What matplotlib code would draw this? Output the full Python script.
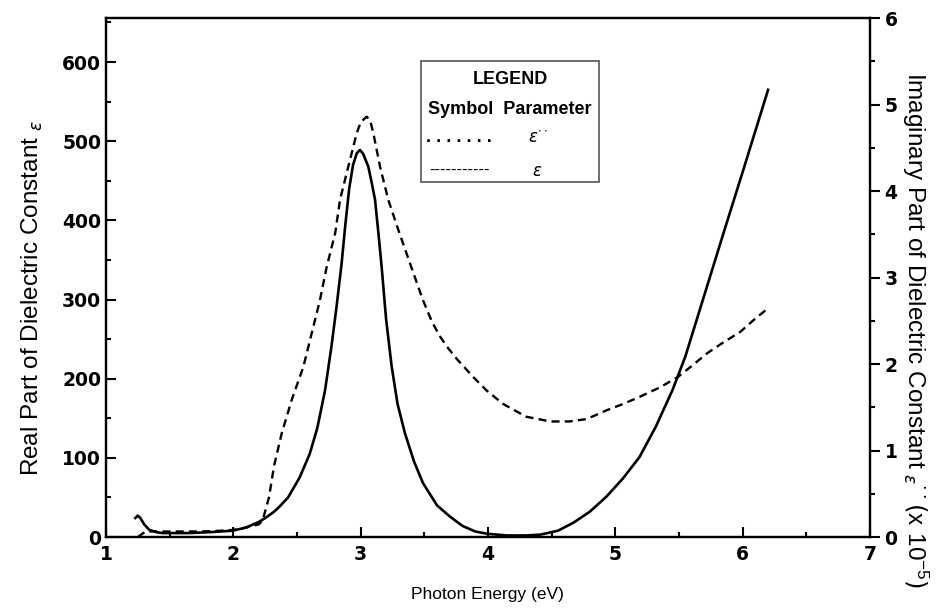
import matplotlib.pyplot as plt
import matplotlib.patches as patches
from matplotlib.ticker import MultipleLocator

# Photon energy (eV) and dielectric constant values
solid_x = [1.23, 1.249, 1.27, 1.30, 1.34, 1.40, 1.445, 1.55, 1.65, 1.80, 1.90,
           1.995, 2.10, 2.20, 2.26, 2.32, 2.36, 2.43, 2.52, 2.60, 2.66, 2.72,
           2.77, 2.81, 2.85, 2.88, 2.91, 2.94, 2.97, 2.995, 3.02, 3.06, 3.09,
           3.113, 3.14, 3.165, 3.20, 3.244, 3.29, 3.348, 3.42, 3.49, 3.60, 3.70,
           3.80, 3.90, 4.00, 4.15, 4.30, 4.41, 4.55, 4.67, 4.80, 4.93, 5.06,
           5.19, 5.32, 5.45, 5.55, 5.70, 5.85, 6.00, 6.10, 6.20]
solid_y = [24, 27, 24, 16, 9, 6, 5, 5, 5, 6, 7,
           8, 12, 19, 25, 32, 38, 50, 75, 105, 138, 185,
           240, 290, 345, 395, 440, 470, 485, 489, 484, 468, 445,
           426, 383, 341, 275, 215, 168, 131, 95, 68, 40, 26,
           14, 7, 4, 2, 2, 3, 8, 18, 32, 51, 74,
           101, 140, 186, 228, 306, 384, 461, 513, 565]

dash_x = [1.25, 1.31, 1.40, 1.50, 1.60, 1.75, 1.90, 2.00, 2.10, 2.20, 2.23,
          2.28, 2.32, 2.38, 2.458, 2.55, 2.615, 2.68, 2.733, 2.80, 2.838,
          2.903, 2.969, 3.00, 3.047, 3.075, 3.10, 3.152, 3.217, 3.296, 3.387,
          3.49, 3.56, 3.62, 3.69, 3.755, 3.885, 3.99, 4.12, 4.30, 4.49, 4.64,
          4.775, 4.93, 5.06, 5.19, 5.35, 5.49, 5.60, 5.72, 5.85, 5.98, 6.10,
          6.20]
dash_y = [0, 7, 7, 7, 7, 7, 8, 9, 12, 16, 21,
          50, 90, 131, 173, 215, 257, 299, 341, 384, 426,
          468, 510, 524, 531, 526, 510, 468, 426, 388, 346,
          299, 272, 254, 238, 225, 202, 185, 168, 152, 146, 146,
          149, 160, 168, 177, 189, 202, 216, 232, 246, 259, 276,
          289]

left_max = 655.6
right_max = 6

fig = plt.figure(figsize=(9.49, 6.12), dpi=100)
ax = fig.add_axes([0.1117, 0.1225, 0.805, 0.848])
ax2 = ax.twinx()

ax.plot(solid_x, solid_y, color='black', lw=1.9, solid_joinstyle='round')
ax.plot(dash_x, dash_y, color='black', lw=1.7, dashes=(3.4, 2.2))

ax.set_xlim(1, 7)
ax.set_ylim(0, left_max)
ax2.set_ylim(0, right_max)

tick_font = {'family': 'DejaVu Sans', 'weight': 'bold', 'size': 13.5}

ax.xaxis.set_major_locator(MultipleLocator(1))
ax.xaxis.set_minor_locator(MultipleLocator(0.5))
ax.yaxis.set_major_locator(MultipleLocator(100))
ax.yaxis.set_minor_locator(MultipleLocator(50))
ax2.yaxis.set_major_locator(MultipleLocator(1))
ax2.yaxis.set_minor_locator(MultipleLocator(0.5))

ax.tick_params(axis='both', which='major', direction='in', length=7, width=1.5,
               top=False, right=False)
ax.tick_params(axis='both', which='minor', direction='in', length=3.5, width=1.5,
               top=False, right=False)
ax.tick_params(axis='x', pad=6)
ax2.tick_params(axis='y', which='major', direction='out', length=7, width=1.5)
ax2.tick_params(axis='y', which='minor', direction='out', length=3.5, width=1.5)

for lab in ax.get_xticklabels() + ax.get_yticklabels() + ax2.get_yticklabels():
    lab.set_fontproperties(tick_font)

for a in (ax, ax2):
    for s in a.spines.values():
        s.set_linewidth(1.6)

# axis titles
fig.text(0.514, 0.028, 'Photon Energy (eV)', ha='center', va='center',
         family='Liberation Sans', size=12.5)
fig.text(0.034, 0.513, r'Real Part of Dielectric Constant $_{\varepsilon}$',
         rotation=90, ha='center', va='center', family='Liberation Sans', size=17.5)
fig.text(0.964, 0.461,
         r'Imaginary Part of Dielectric Constant $_{\varepsilon}$$^{\cdot\cdot}$'
         r'$\left(\mathregular{x\ 10^{-5}}\right)$',
         rotation=270, ha='center', va='center', family='Liberation Sans', size=17.5)

# hand-made legend box
ax.add_patch(patches.Rectangle((0.412, 0.684), 0.233, 0.233, transform=ax.transAxes,
                               fill=False, edgecolor='#555555', lw=1.2))
leg_font = {'family': 'Liberation Sans', 'weight': 'bold', 'size': 13}
ax.text(0.529, 0.882, 'LEGEND', transform=ax.transAxes, ha='center', va='center',
        **leg_font)
ax.text(0.528, 0.823, 'Symbol  Parameter', transform=ax.transAxes, ha='center',
        va='center', **leg_font)
ax.text(0.4625, 0.770, '. . . . . . .', transform=ax.transAxes, ha='center',
        va='center', family='Liberation Sans', size=13, weight='bold')
ax.text(0.4625, 0.707, '-----------', transform=ax.transAxes, ha='center',
        va='center', family='Liberation Sans', size=12)
ax.text(0.565, 0.770, r"$\varepsilon^{\cdot\cdot}$", transform=ax.transAxes,
        ha='center', va='center', size=12)
ax.text(0.565, 0.705, r'$\varepsilon$', transform=ax.transAxes, ha='center',
        va='center', size=12)

fig.savefig('out.png', dpi=100)
